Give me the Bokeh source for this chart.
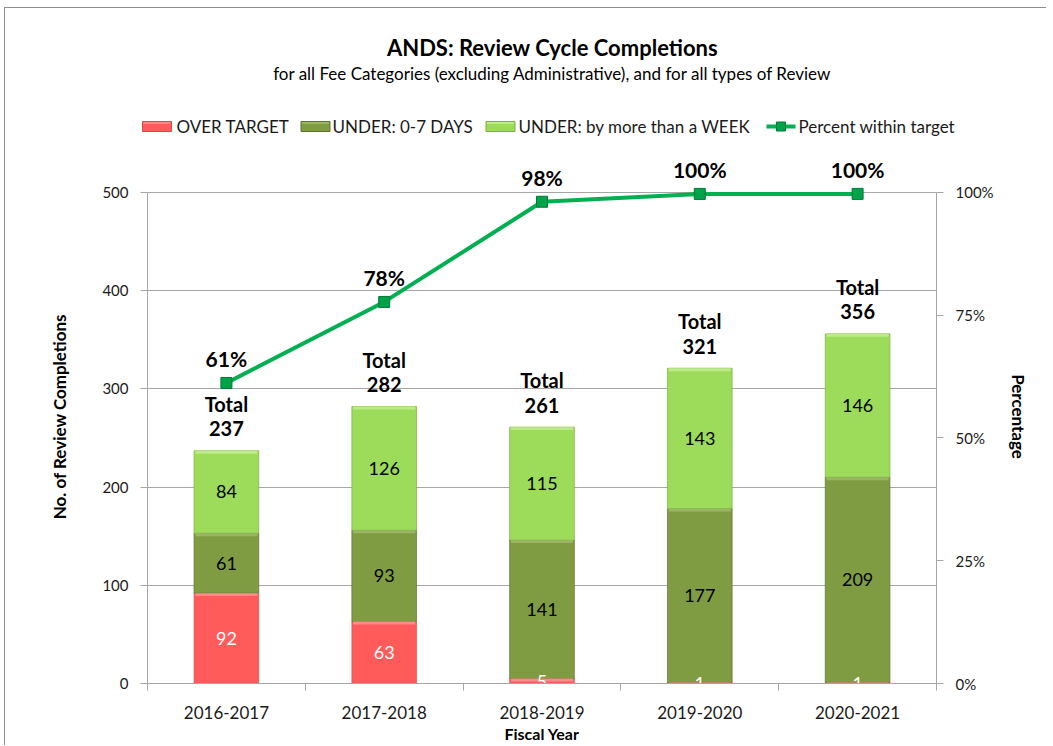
from bokeh.plotting import figure
from bokeh.layouts import column
from bokeh.models import (Range1d, LinearAxis, FixedTicker, NumeralTickFormatter,
                          LabelSet, ColumnDataSource)
from bokeh.embed import file_html
from bokeh.resources import INLINE
from bokeh.core.properties import value

# ---- data ----
years = ["2016-2017", "2017-2018", "2018-2019", "2019-2020", "2020-2021"]
over_target = [92, 63, 5, 1, 1]
under_0_7 = [61, 93, 141, 177, 209]
under_week = [84, 126, 115, 143, 146]
totals = [237, 282, 261, 321, 356]
pct_within = [0.612, 0.777, 0.981, 0.997, 0.997]
pct_labels = ["61%", "78%", "98%", "100%", "100%"]
left_ticks = [0, 100, 200, 300, 400, 500]
right_ticks = [0, 0.25, 0.5, 0.75, 1.0]
series_names = ["OVER TARGET", "UNDER: 0-7 DAYS", "UNDER: by more than a WEEK"]
line_name = "Percent within target"
title = "ANDS: Review Cycle Completions"
subtitle = "for all Fee Categories (excluding Administrative), and for all types of Review"
x_title = "Fiscal Year"
y_title = "No. of Review Completions"
y2_title = "Percentage"

# ---- style ----
FONT = "Lato"
C_OVER = "#FF5B5B"
C_U07 = "#7F9C42"
C_UWK = "#9DDB5A"
C_LINE = "#00B050"
L_OVER = "#D94848"
L_U07 = "#5E7530"
L_UWK = "#7FB040"
H_OVER = "#FF8A8A"
H_U07 = "#9BB565"
H_UWK = "#BDEB8A"
GRID = "#A6A6A6"
TXT = "#1A1A1A"

W = 1041
H_HEAD = 141
H_CHART = 596
B_BOTTOM = 61
Y_MAX = 500
Y_TOP = (H_CHART - B_BOTTOM) / 0.984  # headroom above 500 for the percent labels
BEVEL = 3.0    # height (data units) of the lighter top edge of each segment

# header geometry (header pixel coordinates, y measured up from header bottom)
TITLE_Y = 102
SUB_Y = 76
LEG_Y = 23
LEG_BAR_X = [151.5, 310, 495]
LEG_LINE_X = (761, 790)
LEG_TEXT_X = [171, 327, 513, 793]


def no_align(fig):
    try:
        fig.frame_align = False
    except Exception:
        pass


# ================= header figure (title, subtitle, legend) =================
ph = figure(width=W, height=H_HEAD, x_range=Range1d(0, W), y_range=Range1d(0, H_HEAD),
            x_axis_location=None, y_axis_location=None, toolbar_location=None,
            output_backend="svg", min_border=0)
no_align(ph)
ph.outline_line_color = None
ph.grid.visible = False
ph.background_fill_color = "white"
ph.border_fill_color = "white"

ph.text(x=[547], y=[TITLE_Y], text=[title], text_align="center", text_baseline="middle",
        text_font=value(FONT), text_font_size="22px", text_font_style="bold", text_color="black")
ph.text(x=[547], y=[SUB_Y], text=[subtitle], text_align="center", text_baseline="middle",
        text_font=value(FONT), text_font_size="17px", text_color="black")

ph.rect(x=LEG_BAR_X, y=[LEG_Y] * 3, width=29, height=10,
        fill_color=[C_OVER, C_U07, C_UWK], line_color=[L_OVER, L_U07, L_UWK])
ph.rect(x=LEG_BAR_X, y=[LEG_Y + 3.5] * 3, width=27, height=2,
        fill_color=[H_OVER, H_U07, H_UWK], line_color=None)
ph.line(x=list(LEG_LINE_X), y=[LEG_Y, LEG_Y], line_color=C_LINE, line_width=4)
ph.scatter(x=[sum(LEG_LINE_X) / 2], y=[LEG_Y], marker="square", size=9,
           fill_color="#00A34A", line_color="#007A35")
ph.text(x=LEG_TEXT_X, y=[LEG_Y] * 4, text=series_names + [line_name], text_align="left",
        text_baseline="middle", text_font=value(FONT), text_font_size="17px", text_color=TXT)

# ================= chart figure =================
xs = [i + 0.5 for i in range(len(years))]
b1 = [0] * len(years)
t1 = [b + v for b, v in zip(b1, over_target)]
t2 = [b + v for b, v in zip(t1, under_0_7)]
t3 = [b + v for b, v in zip(t2, under_week)]

src = ColumnDataSource(dict(
    x=xs, b1=b1, t1=t1, t2=t2, t3=t3,
    h1=[max(b, t - BEVEL) for b, t in zip(b1, t1)],
    h2=[max(b, t - BEVEL) for b, t in zip(t1, t2)],
    h3=[max(b, t - BEVEL) for b, t in zip(t2, t3)],
    m1=[(a + b) / 2 for a, b in zip(b1, t1)],
    m2=[(a + b) / 2 for a, b in zip(t1, t2)],
    m3=[(a + b) / 2 for a, b in zip(t2, t3)],
    l1=[str(v) for v in over_target],
    l2=[str(v) for v in under_0_7],
    l3=[str(v) for v in under_week],
    tot=totals,
    totlab=[str(v) for v in totals],
    totword=["Total"] * len(years),
    pct=pct_within, pctlab=pct_labels,
))

p = figure(width=W, height=H_CHART, x_range=Range1d(0, len(years)), y_range=Range1d(0, Y_TOP),
           output_backend="svg", toolbar_location=None,
           min_border_left=142, min_border_right=110, min_border_top=0,
           min_border_bottom=B_BOTTOM)
no_align(p)
p.extra_y_ranges = {"pct": Range1d(0, Y_TOP / Y_MAX)}
p.outline_line_color = None
p.background_fill_color = "white"
p.border_fill_color = "white"

p.xgrid.visible = False
p.ygrid.ticker = FixedTicker(ticks=left_ticks)
p.ygrid.grid_line_color = GRID

la = p.yaxis[0]
la.ticker = FixedTicker(ticks=left_ticks)
la.bounds = (0, Y_MAX)
la.axis_line_color = GRID
la.major_tick_line_color = GRID
la.major_tick_out = 7
la.major_tick_in = 0
la.minor_tick_line_color = None
la.major_label_text_font = FONT
la.major_label_text_font_size = "15px"
la.major_label_text_color = TXT
la.major_label_standoff = 12
la.axis_label = y_title
la.axis_label_text_font = FONT
la.axis_label_text_font_style = "bold"
la.axis_label_text_font_size = "17px"
la.axis_label_text_color = "black"
la.axis_label_standoff = 29

ra = LinearAxis(y_range_name="pct", ticker=FixedTicker(ticks=right_ticks),
                formatter=NumeralTickFormatter(format="0%"), bounds=(0, 1))
ra.axis_line_color = GRID
ra.major_tick_line_color = GRID
ra.major_tick_out = 7
ra.major_tick_in = 0
ra.minor_tick_line_color = None
ra.major_label_text_font = FONT
ra.major_label_text_font_size = "15px"
ra.major_label_text_color = TXT
ra.major_label_standoff = 12
ra.axis_label = y2_title
ra.axis_label_text_font = FONT
ra.axis_label_text_font_style = "bold"
ra.axis_label_text_font_size = "17px"
ra.axis_label_text_color = "black"
ra.axis_label_standoff = 11
p.add_layout(ra, "right")

xa = p.xaxis[0]
xa.ticker = FixedTicker(ticks=xs, minor_ticks=list(range(len(years) + 1)))
xa.major_label_overrides = {x: y for x, y in zip(xs, years)}
xa.axis_line_color = GRID
xa.major_tick_line_color = None
xa.major_tick_out = 7
xa.major_tick_in = 0
xa.minor_tick_line_color = GRID
xa.minor_tick_out = 7
xa.minor_tick_in = 0
xa.major_label_text_font = FONT
xa.major_label_text_font_size = "17px"
xa.major_label_text_color = TXT
xa.major_label_standoff = 15
xa.axis_label = x_title
xa.axis_label_text_font = FONT
xa.axis_label_text_font_style = "bold"
xa.axis_label_text_font_size = "16px"
xa.axis_label_text_color = "black"
xa.axis_label_standoff = 2

bw = 0.41
p.vbar(x="x", bottom="b1", top="t1", width=bw, source=src, fill_color=C_OVER,
       line_color=L_OVER, line_alpha=0.6)
p.vbar(x="x", bottom="t1", top="t2", width=bw, source=src, fill_color=C_U07,
       line_color=L_U07, line_alpha=0.7)
p.vbar(x="x", bottom="t2", top="t3", width=bw, source=src, fill_color=C_UWK,
       line_color=L_UWK, line_alpha=0.7)
# lighter bevel along the top of each segment
p.vbar(x="x", bottom="h1", top="t1", width=bw * 0.96, source=src, fill_color=H_OVER,
       line_color=None)
p.vbar(x="x", bottom="h2", top="t2", width=bw * 0.96, source=src, fill_color=H_U07,
       line_color=None)
p.vbar(x="x", bottom="h3", top="t3", width=bw * 0.96, source=src, fill_color=H_UWK,
       line_color=None)

p.text(x="x", y="m1", text="l1", source=src, text_align="center", text_baseline="middle",
       text_font=value(FONT), text_font_size="18px", text_color="white")
p.text(x="x", y="m2", text="l2", source=src, text_align="center", text_baseline="middle",
       text_font=value(FONT), text_font_size="18px", text_color="black")
p.text(x="x", y="m3", text="l3", source=src, text_align="center", text_baseline="middle",
       text_font=value(FONT), text_font_size="18px", text_color="black")

p.add_layout(LabelSet(x="x", y="tot", text="totword", source=src, y_offset=47,
                      text_align="center", text_baseline="middle", text_font=value(FONT),
                      text_font_size="20px", text_font_style="bold", text_color="black"))
p.add_layout(LabelSet(x="x", y="tot", text="totlab", source=src, y_offset=22,
                      text_align="center", text_baseline="middle", text_font=value(FONT),
                      text_font_size="20px", text_font_style="bold", text_color="black"))

p.line(x="x", y="pct", source=src, y_range_name="pct", line_color=C_LINE, line_width=4)
p.scatter(x="x", y="pct", source=src, y_range_name="pct", marker="square", size=11,
          fill_color="#00A34A", line_color="#007A35", line_width=1)
p.add_layout(LabelSet(x="x", y="pct", text="pctlab", source=src, y_range_name="pct",
                      y_offset=24, text_align="center", text_baseline="middle",
                      text_font=value(FONT), text_font_size="21px", text_font_style="bold",
                      text_color="black"))

layout = column(ph, p, spacing=0,
                styles={"border-left": "1px solid #8C8C8C", "border-top": "1px solid #8C8C8C",
                        "margin-left": "4px", "margin-top": "7px"})

open("out.html", "w").write(file_html(layout, INLINE))
